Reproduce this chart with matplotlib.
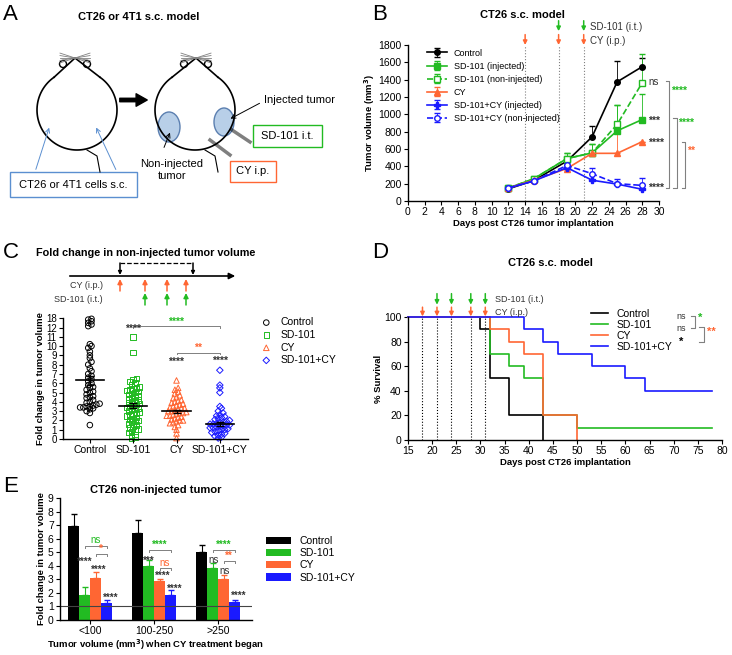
import numpy as np
import matplotlib
matplotlib.use('Agg')
from matplotlib import pyplot as plt
from matplotlib.patches import Circle, Ellipse, Rectangle, FancyArrowPatch

plt.rcParams['font.family'] = ['Liberation Sans', 'DejaVu Sans']
plt.rcParams['font.size'] = 7.5
plt.rcParams['axes.linewidth'] = 1.0

W, H = 732, 655
GREEN = '#22bb22'
ORANGE = '#ff6633'
BLUE = '#1a1aff'

# ---------- data ----------
# panel B
b_days = [12, 15, 19, 22, 25, 28]
b_control = [140, 235, 460, 740, 1375, 1550]
b_control_err = [0, 0, 0, 120, 240, 100]
b_sd_inj = [150, 255, 490, 555, 810, 940]
b_sd_inj_err = [0, 0, 60, 100, 300, 290]
b_sd_non = [150, 255, 490, 555, 885, 1365]
b_sd_non_err = [0, 0, 60, 100, 225, 330]
b_cy = [150, 240, 375, 550, 550, 685]
b_cy_err = [0, 0, 0, 0, 230, 0]
b_combo_inj = [150, 230, 385, 240, 195, 135]
b_combo_inj_err = [0, 0, 0, 0, 30, 0]
b_combo_non = [150, 230, 410, 315, 200, 180]
b_combo_non_err = [0, 0, 0, 70, 50, 80]

# panel C (fold change per mouse)
c_groups = ['Control', 'SD-101', 'CY', 'SD-101+CY']
c_control = [1.5, 2.8, 3.0, 3.2, 3.3, 3.4, 3.4, 3.5, 3.5, 3.6, 3.7, 3.8, 3.9, 4.0, 4.2, 4.4,
             4.5, 4.6, 4.8, 5.0, 5.1, 5.3, 5.5, 5.6, 5.8, 6.0, 6.2, 6.4, 6.6, 6.8, 7.0, 7.3,
             7.6, 8.0, 8.3, 8.7, 9.0, 9.4, 9.8, 10.0, 10.2, 13.0, 14.0, 15.0, 16.0, 17.0, 17.5]
c_sd = [0.1, 0.2, 0.4, 0.5, 0.7, 0.8, 1.0, 1.1, 1.2, 1.4, 1.5, 1.6, 1.8, 1.9, 2.0, 2.1, 2.2,
        2.3, 2.5, 2.6, 2.7, 2.8, 2.9, 3.0, 3.1, 3.2, 3.3, 3.4, 3.5, 3.6, 3.7, 3.8, 3.9, 4.0,
        4.1, 4.2, 4.3, 4.4, 4.5, 4.6, 4.8, 4.9, 5.0, 5.1, 5.2, 5.3, 5.4, 5.5, 5.6, 5.8, 6.0,
        6.2, 6.4, 6.5, 9.3, 11.0]
c_cy = [0.1, 0.6, 1.0, 1.3, 1.5, 1.7, 1.8, 1.9, 2.0, 2.0, 2.1, 2.2, 2.3, 2.4, 2.5, 2.5, 2.6,
        2.7, 2.8, 2.8, 2.9, 3.0, 3.0, 3.1, 3.2, 3.3, 3.3, 3.4, 3.5, 3.6, 3.7, 3.8, 3.9, 4.0,
        4.1, 4.2, 4.4, 4.5, 4.7, 4.9, 5.1, 5.3, 5.5, 6.3]
c_combo = [0.1, 0.2, 0.3, 0.4, 0.5, 0.6, 0.7, 0.8, 0.9, 1.0, 1.0, 1.1, 1.2, 1.2, 1.3, 1.4,
           1.4, 1.5, 1.5, 1.6, 1.6, 1.7, 1.8, 1.8, 1.9, 2.0, 2.1, 2.2, 2.3, 2.4, 2.5, 2.6,
           2.8, 3.0, 3.3, 3.5, 5.0, 5.5, 5.8, 7.4]
c_means = [6.3, 3.6, 3.0, 1.6]
c_sem = [0.5, 0.25, 0.15, 0.2]

# panel D (Kaplan-Meier steps)
d_control_t = [15, 30, 32, 36, 43]
d_control_s = [100, 90, 50, 20, 0]
d_sd_t = [15, 32, 36, 39, 43, 50, 78]
d_sd_s = [100, 70, 60, 50, 20, 10, 10]
d_cy_t = [15, 32, 36, 39, 43, 50]
d_cy_s = [100, 90, 80, 70, 20, 0]
d_combo_t = [15, 39, 43, 46, 53, 60, 64, 78]
d_combo_s = [100, 90, 80, 70, 60, 50, 40, 40]
d_dose_days = [18, 21, 24, 28, 31]

# panel E
e_cats = ['<100', '100-250', '>250']
e_series = ['Control', 'SD-101', 'CY', 'SD-101+CY']
e_vals = [[6.9, 6.4, 5.05], [1.85, 4.0, 3.8], [3.1, 2.85, 3.05], [1.25, 1.85, 1.3]]
e_err = [[0.95, 1.0, 0.5], [0.55, 0.4, 0.4], [0.45, 0.2, 0.25], [0.2, 0.35, 0.2]]


def ax_px(l, t, r, b):
    return fig.add_axes([l / W, 1 - b / H, (r - l) / W, (b - t) / H])


def down_arrow(ax, x, y0, y1, col, ms=7):
    ax.annotate('', xy=(x, y1), xytext=(x, y0), annotation_clip=False,
                arrowprops=dict(arrowstyle='-|>', color=col, lw=1.1, mutation_scale=ms,
                                shrinkA=0, shrinkB=0))


fig = plt.figure(figsize=(W / 100, H / 100), dpi=100)

# ---------- panel A (schematic) ----------
axA = ax_px(0, 0, 366, 215)
axA.set_xlim(0, 366); axA.set_ylim(215, 0); axA.axis('off')
axA.text(3, 14, 'A', fontsize=16, va='center')
axA.text(139, 17, 'CT26 or 4T1 s.c. model', fontsize=8, fontweight='bold', ha='center', va='center')
for cx, tipx in ((77, 75), (195, 196)):
    r = 40
    cy_ = 110
    ang = np.linspace(np.radians(-55), np.radians(235), 100)
    axA.plot(cx + r * np.cos(ang), cy_ + r * np.sin(ang), color='k', lw=1.2)
    axA.plot([cx + r * np.cos(np.radians(-55)), tipx, cx + r * np.cos(np.radians(235))],
             [cy_ + r * np.sin(np.radians(-55)), 58, cy_ + r * np.sin(np.radians(235))], color='k', lw=1.2)
    for ex in (tipx - 12, tipx + 12):
        axA.add_patch(Circle((ex, 64), 3.5, fill=False, lw=1))
    for dy in (-7, -3.5, 0, 3.5, 7):
        axA.plot([tipx - 15, tipx + 15], [58 + dy * 0.7, 58 - dy * 0.7], color='gray', lw=0.6)
    axA.plot([cx + 10, cx + 20, cx + 23], [150, 156, 172], color='k', lw=0.8)
axA.add_patch(FancyArrowPatch((117, 100), (150, 100), arrowstyle='simple,head_width=9,head_length=8,tail_width=2.5',
                              color='k', mutation_scale=1))
axA.add_patch(Ellipse((169, 127), 22, 30, facecolor='#b8cfe8', edgecolor='#5b7fb0', lw=1))
axA.add_patch(Ellipse((224, 122), 20, 28, facecolor='#b8cfe8', edgecolor='#5b7fb0', lw=1))
axA.text(264, 100, 'Injected tumor', fontsize=8, va='center')
axA.annotate('', xy=(228, 120), xytext=(262, 102), arrowprops=dict(arrowstyle='->', lw=0.7, color='k'))
axA.annotate('', xy=(171, 130), xytext=(163, 150), arrowprops=dict(arrowstyle='->', lw=0.7, color='k'))
axA.plot([232, 250], [130, 142], color='k', lw=2.5, alpha=0.5)
axA.plot([210, 230], [140, 155], color='k', lw=2.5, alpha=0.5)
axA.add_patch(Rectangle((253, 125), 69, 22, fill=False, edgecolor=GREEN, lw=1))
axA.text(287.5, 136, 'SD-101 i.t.', fontsize=8, ha='center', va='center')
axA.text(172, 170, 'Non-injected\ntumor', fontsize=8, ha='center', va='center', linespacing=1.2)
axA.add_patch(Rectangle((230, 161), 46, 21, fill=False, edgecolor=ORANGE, lw=1))
axA.text(253, 171.5, 'CY i.p.', fontsize=8, ha='center', va='center')
axA.add_patch(Rectangle((10, 172), 127, 25, fill=False, edgecolor='#5b8fd0', lw=1))
axA.text(73.5, 184.5, 'CT26 or 4T1 cells s.c.', fontsize=8, ha='center', va='center')
axA.annotate('', xy=(50, 125), xytext=(35, 172), arrowprops=dict(arrowstyle='->', lw=0.7, color='#5b8fd0'))
axA.annotate('', xy=(95, 125), xytext=(117, 172), arrowprops=dict(arrowstyle='->', lw=0.7, color='#5b8fd0'))

# ---------- panel B ----------
axB = ax_px(408, 45, 659, 201)
fig.text(372 / W, 1 - 14 / H, 'B', fontsize=16, va='center')
fig.text(480 / W, 1 - 15 / H, 'CT26 s.c. model', fontsize=8, fontweight='bold', va='center')
for d in (14, 18, 21):
    axB.axvline(d, color='gray', ls=':', lw=0.8)
lines = [
    (b_control, b_control_err, 'k', '-', 'o', 'k', 'Control'),
    (b_sd_inj, b_sd_inj_err, GREEN, '-', 's', GREEN, 'SD-101 (injected)'),
    (b_sd_non, b_sd_non_err, GREEN, '--', 's', 'white', 'SD-101 (non-injected)'),
    (b_cy, b_cy_err, ORANGE, '-', '^', ORANGE, 'CY'),
    (b_combo_inj, b_combo_inj_err, BLUE, '-', 'P', BLUE, 'SD-101+CY (injected)'),
    (b_combo_non, b_combo_non_err, BLUE, '--', 'o', 'white', 'SD-101+CY (non-injected)'),
]
for vals, err, col, ls, mk, fc, lab in lines:
    axB.errorbar(b_days, vals, yerr=[np.zeros(len(err)), err], color=col, ls=ls, marker=mk,
                 mfc=fc, mec=col, ms=4, lw=1.2, elinewidth=0.6, capsize=2, label=lab)
axB.set_xlim(0, 30); axB.set_ylim(0, 1800)
axB.set_xticks(range(0, 31, 2)); axB.set_yticks(range(0, 1801, 200))
axB.tick_params(labelsize=7.5, length=3, pad=1.5)
axB.spines[['top', 'right']].set_visible(False)
axB.set_xlabel('Days post CT26 tumor implantation', fontsize=6.8, fontweight='bold', labelpad=1)
axB.set_ylabel('Tumor volume (mm$^\\mathbf{3}$)', fontsize=6.8, fontweight='bold', labelpad=1)
axB.legend(loc='upper left', fontsize=6.5, frameon=False, handlelength=2.2, labelspacing=0.45,
           bbox_to_anchor=(0.06, 1.0), borderaxespad=0)
for d in (14, 18, 21):
    down_arrow(axB, d, 1920, 1800, ORANGE, ms=6)
for d in (18, 21):
    down_arrow(axB, d, 2080, 1960, GREEN, ms=6)
axB.text(21.8, 2010, 'SD-101 (i.t.)', fontsize=7, va='center', color='#333333')
axB.text(21.8, 1850, 'CY (i.p.)', fontsize=7, va='center', color='#333333')
axB.text(28.7, 1370, 'ns', fontsize=7, va='center', color='#333333')
axB.text(28.7, 930, '***', fontsize=7.5, va='center', fontweight='bold', color='#333333')
axB.text(28.7, 670, '****', fontsize=7.5, va='center', fontweight='bold', color='#333333')
axB.text(28.7, 150, '****', fontsize=7.5, va='center', fontweight='bold', color='#333333')
for x, top in ((31.2, 1380), (32.1, 960), (33.1, 680)):
    axB.plot([x - 0.4, x, x, x - 0.4], [top, top, 150, 150], color='gray', lw=0.8, clip_on=False)
axB.text(31.4, 1270, '****', color=GREEN, fontsize=7.5, fontweight='bold', va='center')
axB.text(32.3, 900, '****', color=GREEN, fontsize=7.5, fontweight='bold', va='center')
axB.text(33.3, 580, '**', color=ORANGE, fontsize=7.5, fontweight='bold', va='center')

# ---------- panel C ----------
fig.text(3 / W, 1 - 252 / H, 'C', fontsize=16, va='center')
fig.text(36 / W, 1 - 253 / H, 'Fold change in non-injected tumor volume', fontsize=7.8,
         fontweight='bold', va='center')
axT = ax_px(0, 258, 366, 308)
axT.set_xlim(0, 366); axT.set_ylim(308, 258); axT.axis('off')
axT.annotate('', xy=(238, 276), xytext=(67, 276),
             arrowprops=dict(arrowstyle='-|>', color='k', lw=1.2, mutation_scale=9))
axT.plot([120, 193], [263, 263], 'k--', lw=0.9)
for x in (120, 193):
    down_arrow(axT, x, 263, 275, 'k', ms=5)
for x in (120, 145, 167, 186):
    down_arrow(axT, x, 291, 279, ORANGE)
for x in (145, 167, 186):
    down_arrow(axT, x, 305, 293, GREEN)
axT.text(103, 285, 'CY (i.p.)', fontsize=6.5, ha='right', va='center', color='#333333')
axT.text(103, 299, 'SD-101 (i.t.)', fontsize=6.5, ha='right', va='center', color='#333333')


def brk(v):
    v = np.asarray(v, float)
    return np.where(v <= 11, v, 11.97 + (v - 12) * (1.05 / 6))


axC = ax_px(63, 318, 248, 439)
c_data = [c_control, c_sd, c_cy, c_combo]
c_styles = [('o', 'k'), ('s', GREEN), ('^', ORANGE), ('D', BLUE)]
for i, (vals, (mk, col)) in enumerate(zip(c_data, c_styles)):
    y = brk(sorted(vals))
    bins = np.round(y / 0.45)
    xs = np.zeros(len(y))
    for bval in np.unique(bins):
        idx = np.where(bins == bval)[0]
        n = len(idx)
        xs[idx] = (np.arange(n) - (n - 1) / 2) * 0.075
    axC.scatter(i + xs, y, marker=mk, s=16 if mk != 'D' else 11, facecolors='none',
                edgecolors=col, linewidths=0.7, label=c_groups[i], clip_on=False)
    axC.plot([i - 0.33, i + 0.33], [c_means[i]] * 2, color='k', lw=1.2)
    axC.errorbar(i, c_means[i], yerr=c_sem[i], color='k', capsize=3, lw=0.8)
axC.set_xlim(-0.62, 3.65); axC.set_ylim(0, brk(18))
axC.set_yticks(list(brk(list(range(12)) + [12, 18])))
axC.set_yticklabels([str(v) for v in range(12)] + ['12', '18'])
axC.set_xticks(range(4)); axC.set_xticklabels(c_groups)
axC.tick_params(axis='y', labelsize=7, length=3, pad=1.5)
axC.tick_params(axis='x', labelsize=7.5, length=3, pad=1.5)
axC.spines[['top', 'right']].set_visible(False)
axC.set_ylabel('Fold change in tumor volume', fontsize=6.8, fontweight='bold', labelpad=1)
axC.text(1, 11.5, '****', ha='center', fontsize=7.5, fontweight='bold', color='#333333')
axC.text(2, 8.0, '****', ha='center', fontsize=7.5, fontweight='bold', color='#333333')
axC.text(3, 8.1, '****', ha='center', fontsize=7.5, fontweight='bold', color='#333333')
axC.plot([1, 1, 3, 3], [11.95, 12.15, 12.15, 11.95], color='gray', lw=0.7)
axC.text(2, 12.25, '****', ha='center', fontsize=7.5, fontweight='bold', color=GREEN)
axC.plot([2, 2, 3, 3], [9.1, 9.3, 9.3, 9.1], color='gray', lw=0.7)
axC.text(2.5, 9.45, '**', ha='center', fontsize=7.5, fontweight='bold', color=ORANGE)
axC.legend(loc='upper left', bbox_to_anchor=(1.02, 1.04), fontsize=7.5, frameon=False,
           handletextpad=0.4, labelspacing=0.25, borderaxespad=0)

# ---------- panel D ----------
fig.text(372 / W, 1 - 252 / H, 'D', fontsize=16, va='center')
fig.text(550 / W, 1 - 263 / H, 'CT26 s.c. model', fontsize=8, fontweight='bold', ha='center', va='center')
axD = ax_px(408, 317, 722, 440)
for d in d_dose_days:
    axD.axvline(d, color='k', ls=':', lw=0.8)
for t, s, col, lab in ((d_control_t, d_control_s, 'k', 'Control'),
                       (d_sd_t, d_sd_s, GREEN, 'SD-101'),
                       (d_cy_t, d_cy_s, ORANGE, 'CY'),
                       (d_combo_t, d_combo_s, BLUE, 'SD-101+CY')):
    axD.step(t + [t[-1]], s + [s[-1]], where='post', color=col, lw=1.2, label=lab, clip_on=False)
axD.set_xlim(15, 80); axD.set_ylim(0, 100)
axD.set_xticks(range(15, 81, 5)); axD.set_yticks(range(0, 101, 20))
axD.tick_params(labelsize=7.5, length=3, pad=1.5)
axD.spines[['top', 'right']].set_visible(False)
axD.set_xlabel('Days post CT26 implantation', fontsize=6.8, fontweight='bold', labelpad=1)
axD.set_ylabel('% Survival', fontsize=6.8, fontweight='bold', labelpad=1)
for d in d_dose_days:
    down_arrow(axD, d, 108, 100.5, ORANGE, ms=6)
for d in d_dose_days[1:]:
    down_arrow(axD, d, 119, 110, GREEN, ms=6)
axD.text(33, 114, 'SD-101 (i.t.)', fontsize=6.5, va='center', color='#333333')
axD.text(33, 104, 'CY (i.p.)', fontsize=6.5, va='center', color='#333333')
axD.legend(loc='upper left', bbox_to_anchor=(0.57, 1.1), fontsize=7.5, frameon=False,
           handlelength=1.6, labelspacing=0.1, borderaxespad=0)
axD.text(70.5, 100, 'ns', fontsize=6.5, va='center', color='#333333')
axD.text(70.5, 91, 'ns', fontsize=6.5, va='center', color='#333333')
axD.text(71, 80, '*', fontsize=8, va='center', color='k', fontweight='bold')
axD.plot([73.5, 74.5, 74.5, 73.5], [101, 101, 91, 91], color='gray', lw=0.8, clip_on=False)
axD.plot([75.2, 76.2, 76.2, 75.2], [92, 92, 80, 80], color='gray', lw=0.8, clip_on=False)
axD.text(75, 99, '*', fontsize=8, color=GREEN, fontweight='bold', va='center')
axD.text(76.8, 88, '**', fontsize=8, color=ORANGE, fontweight='bold', va='center')

# ---------- panel E ----------
fig.text(3 / W, 1 - 487 / H, 'E', fontsize=16, va='center')
axE = ax_px(60, 498, 252, 620)
fig.text(156 / W, 1 - 490 / H, 'CT26 non-injected tumor', fontsize=8, fontweight='bold',
         ha='center', va='center')
e_cols = ['k', GREEN, ORANGE, BLUE]
w = 0.172
x = np.arange(len(e_cats))
for j, (vals, err) in enumerate(zip(e_vals, e_err)):
    axE.bar(x + (j - 1.5) * w, vals, width=w, color=e_cols[j], label=e_series[j],
            yerr=[np.zeros(3), err], error_kw=dict(ecolor=e_cols[j], capsize=2, elinewidth=0.8))
axE.axhline(1, color='#444444', lw=0.8)
axE.set_xlim(-0.47, 2.53); axE.set_ylim(0, 9)
axE.set_xticks(x); axE.set_xticklabels(e_cats)
axE.set_yticks(range(10))
axE.tick_params(labelsize=7.5, length=3, pad=1.5)
axE.spines[['top', 'right']].set_visible(False)
fig.text(156 / W, 1 - 645 / H, 'Tumor volume (mm$^\\mathbf{3}$) when CY treatment began', fontsize=6.8,
         fontweight='bold', ha='center', va='center')
axE.set_ylabel('Fold change in tumor volume', fontsize=6.8, fontweight='bold', labelpad=1)
axE.legend(loc='upper left', bbox_to_anchor=(1.05, 0.72), fontsize=7.5, frameon=False,
           handlelength=2.4, labelspacing=0.2, borderaxespad=0)
k = dict(fontsize=7, fontweight='bold', ha='center', va='bottom')
g = '#333333'
ns = dict(fontsize=7, ha='center', va='bottom')
# group <100
axE.plot([0 - 0.5 * w, 0 - 0.5 * w, 0 + 1.5 * w, 0 + 1.5 * w], [5.3, 5.45, 5.45, 5.3], color='gray', lw=0.7)
axE.text(0 + 0.5 * w, 5.5, 'ns', color=GREEN, **ns)
axE.plot([0 + 0.5 * w, 0 + 0.5 * w, 0 + 1.5 * w, 0 + 1.5 * w], [4.7, 4.85, 4.85, 4.7], color='gray', lw=0.7)
axE.text(0 + 1.0 * w, 4.85, '*', color=ORANGE, **k)
axE.text(0 - 0.5 * w, 3.9, '****', color=g, **k)
axE.text(0 + 0.8 * w, 3.3, '****', color=g, **k)
axE.text(0 + 1.9 * w, 1.3, '****', color=g, **k)
# group 100-250
axE.plot([1 - 0.5 * w, 1 - 0.5 * w, 1 + 1.5 * w, 1 + 1.5 * w], [5.0, 5.15, 5.15, 5.0], color='gray', lw=0.7)
axE.text(1 + 0.5 * w, 5.2, '****', color=GREEN, **k)
axE.plot([1 + 0.5 * w, 1 + 0.5 * w, 1 + 1.5 * w, 1 + 1.5 * w], [3.7, 3.85, 3.85, 3.7], color='gray', lw=0.7)
axE.text(1 + 1.0 * w, 3.85, 'ns', color=ORANGE, **ns)
axE.text(1 - 0.5 * w, 4.0, '***', color=g, **k)
axE.text(1 + 0.8 * w, 2.9, '****', color=g, **k)
axE.text(1 + 1.9 * w, 1.9, '****', color=g, **k)
# group >250
axE.plot([2 - 0.5 * w, 2 - 0.5 * w, 2 + 1.5 * w, 2 + 1.5 * w], [5.0, 5.15, 5.15, 5.0], color='gray', lw=0.7)
axE.text(2 + 0.5 * w, 5.2, '****', color=GREEN, **k)
axE.plot([2 + 0.5 * w, 2 + 0.5 * w, 2 + 1.5 * w, 2 + 1.5 * w], [4.2, 4.35, 4.35, 4.2], color='gray', lw=0.7)
axE.text(2 + 1.0 * w, 4.35, '**', color=ORANGE, **k)
axE.text(2 - 0.4 * w, 4.05, 'ns', color=g, **ns)
axE.text(2 + 0.6 * w, 3.25, 'ns', color=g, **ns)
axE.text(2 + 1.9 * w, 1.4, '****', color=g, **k)

fig.savefig('out.png', dpi=100)
